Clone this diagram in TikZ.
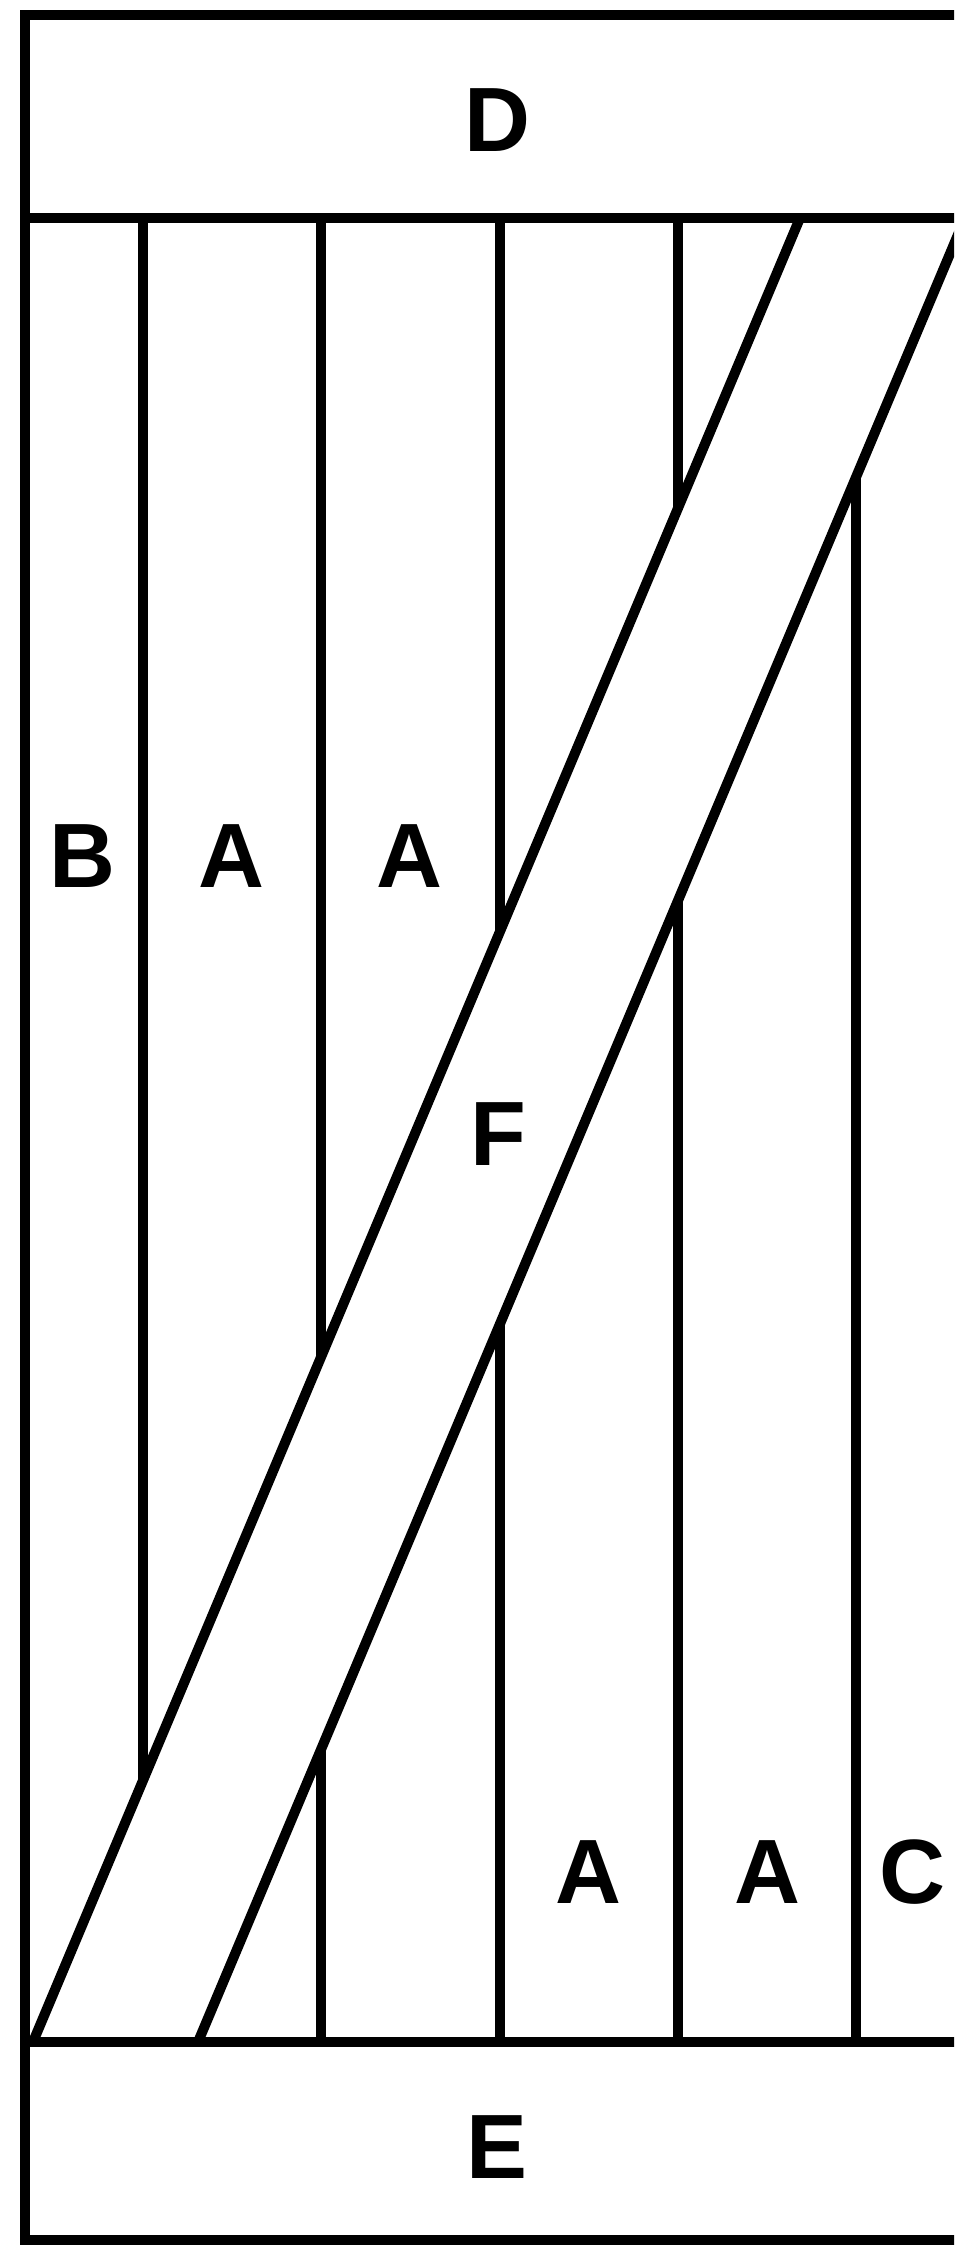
\documentclass[tikz,border=0pt]{standalone}
\usepackage{fontspec}
\setmainfont{Liberation Sans}

\begin{document}
\begin{tikzpicture}[x=0.02cm,y=-0.02cm,
wall/.style={line width=0.2cm,line cap=rect},
lbl/.style={font=\bfseries\fontsize{52}{60}\selectfont,inner sep=0pt}
]
\useasboundingbox (0,0) rectangle (954,2245);
\clip (0,0) rectangle (954,2245);
% boards
\foreach \x in {143,321,500,678,856}
  \draw[wall] (\x,218) -- (\x,2042);
% diagonal brace
\fill[white] (33,2042) -- (800,218) -- (965,218) -- (198,2042) -- cycle;
\draw[wall,line cap=butt] (33,2042) -- (800,218);
\draw[wall,line cap=butt] (198,2042) -- (965,218);
% frame and cross bands
\draw[wall] (25,15) rectangle (974,2240);
\draw[wall] (25,218) -- (974,218);
\draw[wall] (25,2042) -- (974,2042);
% labels
\node[lbl] (top) at (497,120) {D};
\node[lbl] (bottom) at (497,2147) {E};
\node[lbl] (edgeL) at (82,856) {B};
\node[lbl] (boardA1) at (231,856) {A};
\node[lbl] (boardA2) at (409,856) {A};
\node[lbl] (brace) at (498,1134) {F};
\node[lbl] (boardA3) at (588,1872) {A};
\node[lbl] (boardA4) at (767,1872) {A};
\node[lbl] (edgeR) at (912,1872) {C};
\end{tikzpicture}
\end{document}
